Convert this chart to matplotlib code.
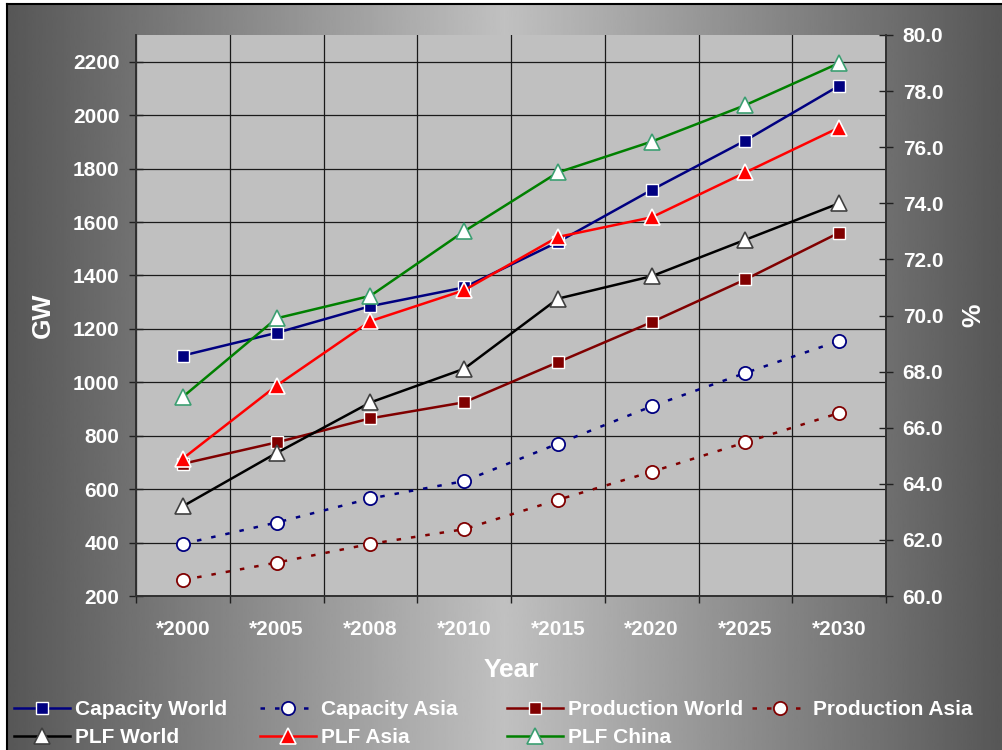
import numpy as np
import matplotlib
matplotlib.use('Agg')
import matplotlib.pyplot as plt
from matplotlib.ticker import FormatStrFormatter

categories = ['*2000', '*2005', '*2008', '*2010', '*2015', '*2020', '*2025', '*2030']

# GW, left axis
capacity_world = [1100, 1185, 1285, 1355, 1525, 1720, 1905, 2110]
capacity_asia = [395, 475, 565, 630, 770, 910, 1035, 1155]
production_world = [695, 775, 865, 925, 1075, 1225, 1385, 1560]
production_asia = [260, 325, 395, 450, 560, 665, 775, 885]

# plant load factor %, right axis
plf_world = [63.2, 65.1, 66.9, 68.1, 70.6, 71.4, 72.7, 74.0]
plf_asia = [64.9, 67.5, 69.8, 70.9, 72.8, 73.5, 75.1, 76.7]
plf_china = [67.1, 69.9, 70.7, 73.0, 75.1, 76.2, 77.5, 79.0]

plt.rcParams['font.family'] = 'Liberation Sans'
plt.rcParams['font.weight'] = 'bold'

NAVY = '#000080'
DRED = '#800000'
RED = '#ff0000'
GREEN = '#008000'
dash = (0, (1.8, 4))

fig = plt.figure(figsize=(10.02, 7.5), dpi=100, facecolor='white')

# grey horizontal gradient behind everything
bg = fig.add_axes([7 / 1002, 0, 995 / 1002, 746 / 750], zorder=-1)
xs = np.linspace(0, 1, 500)
shade = 0.34 + (0.755 - 0.34) * (1 - np.abs(2 * xs - 1))
bg.imshow(shade[None, :], aspect='auto', cmap='gray', vmin=0, vmax=1,
          extent=[0, 1, 0, 1], interpolation='bilinear')
bg.set_xticks([])
bg.set_yticks([])
for side in ['right', 'bottom']:
    bg.spines[side].set_visible(False)
for side in ['left', 'top']:
    bg.spines[side].set_color('black')
    bg.spines[side].set_linewidth(1.5)

ax = fig.add_axes([136 / 1002, 154 / 750, 750 / 1002, 561 / 750])
ax.set_facecolor('#c0c0c0')
x = np.arange(len(categories))

h_cw, = ax.plot(x, capacity_world, color=NAVY, lw=1.8, marker='s', ms=9,
                mfc=NAVY, mec='white', mew=1, label='Capacity World')
h_ca, = ax.plot(x, capacity_asia, color=NAVY, lw=1.8, ls=dash, marker='o', ms=9.5,
                mfc='white', mec=NAVY, mew=1.3, label='Capacity Asia')
h_pw, = ax.plot(x, production_world, color=DRED, lw=1.8, marker='s', ms=9,
                mfc=DRED, mec='white', mew=1, label='Production World')
h_pa, = ax.plot(x, production_asia, color=DRED, lw=1.8, ls=dash, marker='o', ms=9.5,
                mfc='white', mec=DRED, mew=1.3, label='Production Asia')

ax.set_xlim(-0.5, 7.5)
ax.set_ylim(200, 2300)
ax.set_yticks(np.arange(200, 2201, 200))
ax.set_xticks(x)
ax.set_xticklabels(categories)
ax.set_xticks(np.arange(-0.5, 8, 1), minor=True)
ax.tick_params(axis='x', which='major', length=0, pad=17, labelsize=15, labelcolor='white')
ax.tick_params(axis='x', which='minor', length=5, width=1, direction='out', color='#202020')
ax.tick_params(axis='y', length=10, width=1, direction='inout', pad=7,
               labelsize=15, labelcolor='white', color='#202020')
ax.grid(True, axis='y', which='major', color='#1a1a1a', lw=0.9)
ax.grid(True, axis='x', which='minor', color='#1a1a1a', lw=0.9)
ax.set_axisbelow(True)
for side in ['left', 'right', 'bottom']:
    ax.spines[side].set_color('#303030')
    ax.spines[side].set_linewidth(1.2)
ax.spines['top'].set_visible(False)

ax.set_ylabel('GW', fontsize=19, color='white', fontweight='bold')
ax.yaxis.label.set_va('center')
ax.yaxis.set_label_coords(-0.124, 0.5)
ax.set_xlabel('Year', fontsize=19, color='white', fontweight='bold')
ax.xaxis.label.set_va('center')
ax.xaxis.set_label_coords(0.5, -0.132)

ax2 = ax.twinx()
h_plw, = ax2.plot(x, plf_world, color='black', lw=1.8, marker='^', ms=11,
                  mfc='white', mec='#404040', mew=1.2, label='PLF World')
h_pla, = ax2.plot(x, plf_asia, color=RED, lw=1.8, marker='^', ms=11,
                  mfc=RED, mec='white', mew=1.2, label='PLF Asia')
h_plc, = ax2.plot(x, plf_china, color=GREEN, lw=1.8, marker='^', ms=11,
                  mfc='white', mec='#3c9f72', mew=1.2, label='PLF China')
ax2.set_ylim(60, 80)
ax2.set_yticks(np.arange(60, 80.1, 2))
ax2.yaxis.set_major_formatter(FormatStrFormatter('%.1f'))
ax2.tick_params(axis='y', length=10, width=1, direction='inout', pad=7,
                labelsize=15, labelcolor='white', color='#202020')
for side in ['left', 'right', 'bottom']:
    ax2.spines[side].set_color('#303030')
    ax2.spines[side].set_linewidth(1.2)
ax2.spines['top'].set_visible(False)
ax2.set_ylabel('%', fontsize=19, color='white', fontweight='bold', rotation=90)
ax2.yaxis.label.set_va('center')
ax2.yaxis.set_label_coords(1.116, 0.5)

# legend laid out in four columns below the plot
columns = [
    ([h_cw, h_plw], 14),
    ([h_ca, h_pla], 260),
    ([h_pw, h_plc], 507),
    ([h_pa], 752),
]
for handles, px in columns:
    fig.legend(handles=handles, labels=[h.get_label() for h in handles],
               loc='upper left', bbox_to_anchor=(px / 1002, 1 - 700 / 750),
               frameon=False, borderpad=0, borderaxespad=0,
               handlelength=2.7, handletextpad=0.25, labelspacing=0.45,
               prop={'family': 'Liberation Sans', 'weight': 'bold', 'size': 15},
               labelcolor='white')

fig.savefig('out.png', dpi=100, facecolor=fig.get_facecolor())
